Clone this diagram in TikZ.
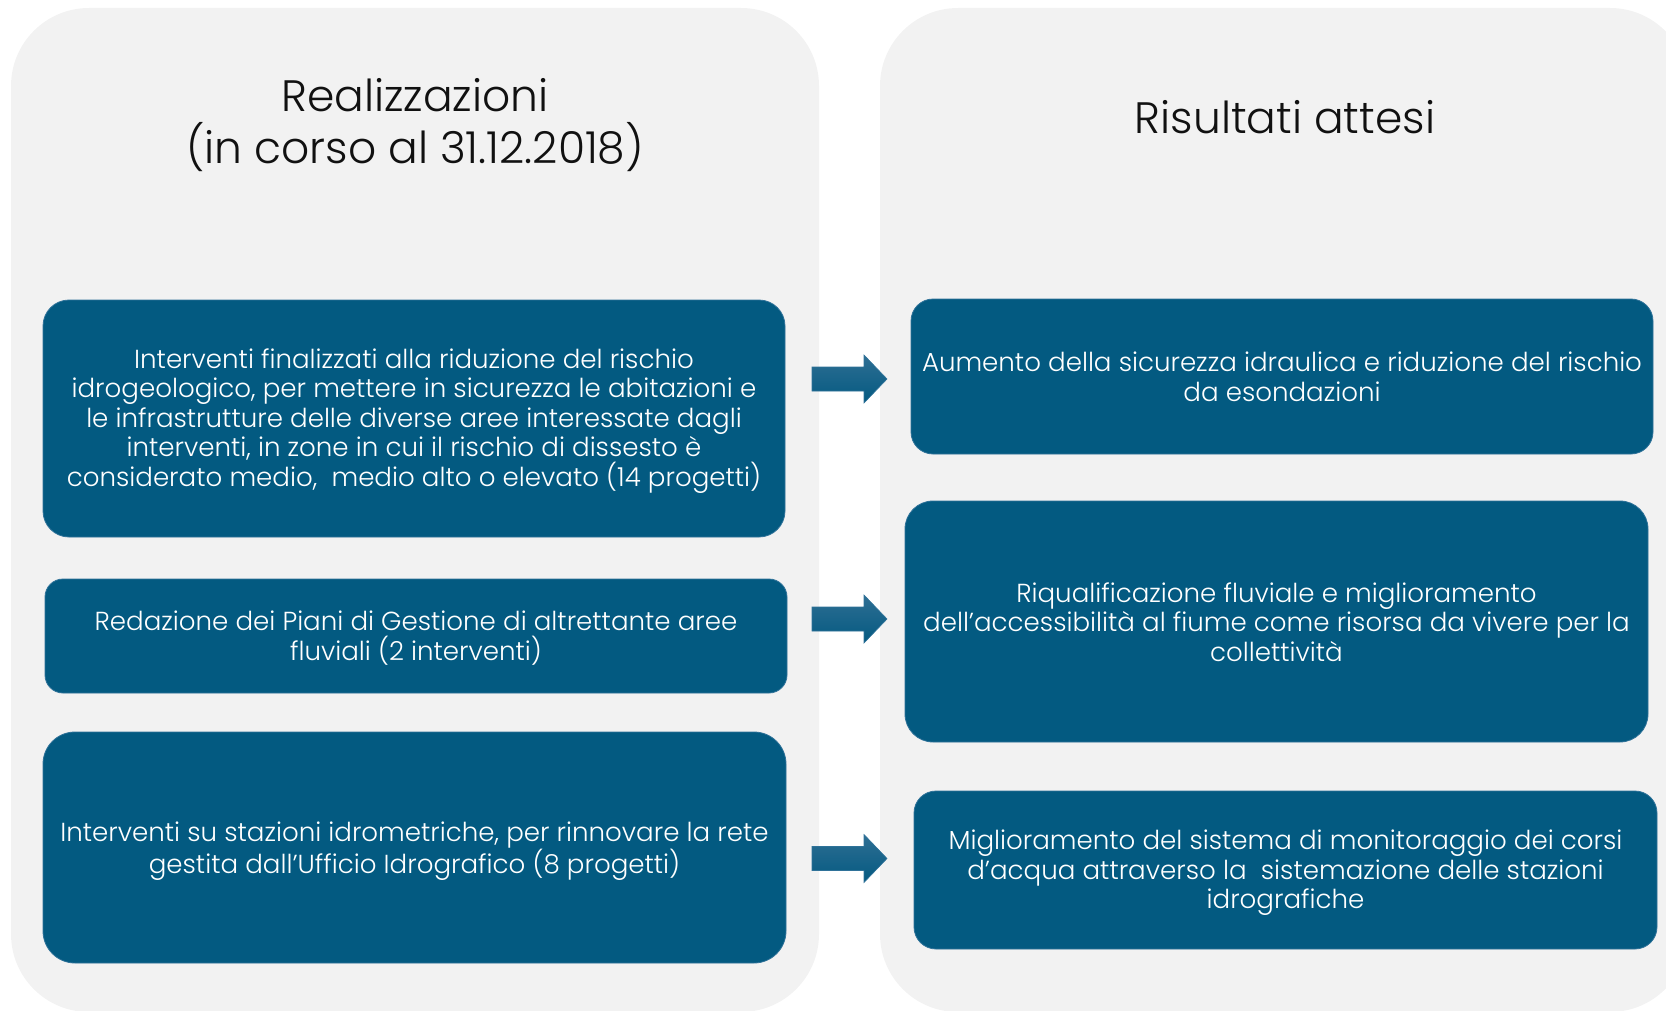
\documentclass[tikz,border=0pt]{standalone}
\usepackage{fontspec}
\setmainfont{Poppins Light}
\definecolor{panelgray}{HTML}{F2F2F2}
\definecolor{boxblue}{HTML}{035A81}
\definecolor{boxedge}{HTML}{2F7299}
\definecolor{arrtop}{HTML}{2E6E93}
\definecolor{arrbot}{HTML}{045A81}
\definecolor{titlecol}{HTML}{111111}
\newcommand{\bodyfont}{\fontsize{26.1}{29.5}\selectfont}
\newcommand{\titlefont}{\fontsize{44}{52}\selectfont}
\begin{document}
\begin{tikzpicture}[x=1pt,y=-1pt,
  panel/.style={fill=panelgray, rounded corners=78pt},
  bluebox/.style={fill=boxblue, draw=boxedge, line width=0.8pt, inner sep=0pt},
  boxtext/.style={text=white, align=center, font=\bodyfont, inner sep=0pt},
  titletext/.style={text=titlecol, align=center, font=\titlefont, inner sep=0pt},
  blockarrow/.style={top color=arrtop, bottom color=arrbot, draw=boxedge, line width=0.6pt},
  barrow/.pic={\path[blockarrow] (-37.5,-12) -- (14.5,-12) -- (14.5,-24) -- (37.5,0)
     -- (14.5,24) -- (14.5,12) -- (-37.5,12) -- cycle;}
]
\useasboundingbox (0,0) rectangle (1666,1011);
\clip (0,0) rectangle (1666,1011);
\fill[panel] (11,8) rectangle (819,1012);
\fill[panel] (880,8) rectangle (1688,1012);

\node[titletext] (t1) at (415,125) {Realizzazioni\\(in corso al 31.12.2018)};
\node[titletext] (t2) at (1285,117) {Risultati attesi};

\node[bluebox, minimum width=742pt, minimum height=237pt, rounded corners=26pt] (l1) at (414,418.5) {};
\node[bluebox, minimum width=742pt, minimum height=114pt, rounded corners=18pt] (l2) at (416,636) {};
\node[bluebox, minimum width=743pt, minimum height=231pt, rounded corners=32pt] (l3) at (414.5,847.5) {};
\node[bluebox, minimum width=742pt, minimum height=155pt, rounded corners=22pt] (r1) at (1282,376.5) {};
\node[bluebox, minimum width=743pt, minimum height=241pt, rounded corners=28pt] (r2) at (1276.5,621.5) {};
\node[bluebox, minimum width=743pt, minimum height=158pt, rounded corners=22pt] (r3) at (1285.5,870) {};

\node[boxtext] (l1t) at ([yshift=-2.5pt]l1.center)
  {Interventi finalizzati alla riduzione del rischio\\
   idrogeologico, per mettere in sicurezza le abitazioni e\\
   le infrastrutture delle diverse aree interessate dagli\\
   interventi, in zone in cui il rischio di dissesto è\\
   considerato medio,~ medio alto o elevato (14 progetti)};
\node[boxtext] (l2t) at ([yshift=-2pt]l2.center)
  {Redazione dei Piani di Gestione di altrettante aree\\
   fluviali (2 interventi)};
\node[boxtext] (l3t) at ([yshift=-4pt]l3.center)
  {Interventi su stazioni idrometriche, per rinnovare la rete\\
   gestita dall’Ufficio Idrografico (8 progetti)};
\node[boxtext] (r1t) at ([yshift=-0.5pt]r1.center)
  {Aumento della sicurezza idraulica e riduzione del rischio\\
   da esondazioni};
\node[boxtext] (r2t) at ([yshift=-0.5pt]r2.center)
  {Riqualificazione fluviale e miglioramento\\
   dell’accessibilità al fiume come risorsa da vivere per la\\
   collettività};
\node[boxtext] (r3t) at ([yshift=-3pt]r3.center)
  {Miglioramento del sistema di monitoraggio dei corsi\\
   d’acqua attraverso la~ sistemazione delle stazioni\\
   idrografiche};

\pic (a1) at (849.5,379) {barrow};
\pic (a2) at (849.5,619) {barrow};
\pic (a3) at (849.5,858.5) {barrow};
\end{tikzpicture}
\end{document}
